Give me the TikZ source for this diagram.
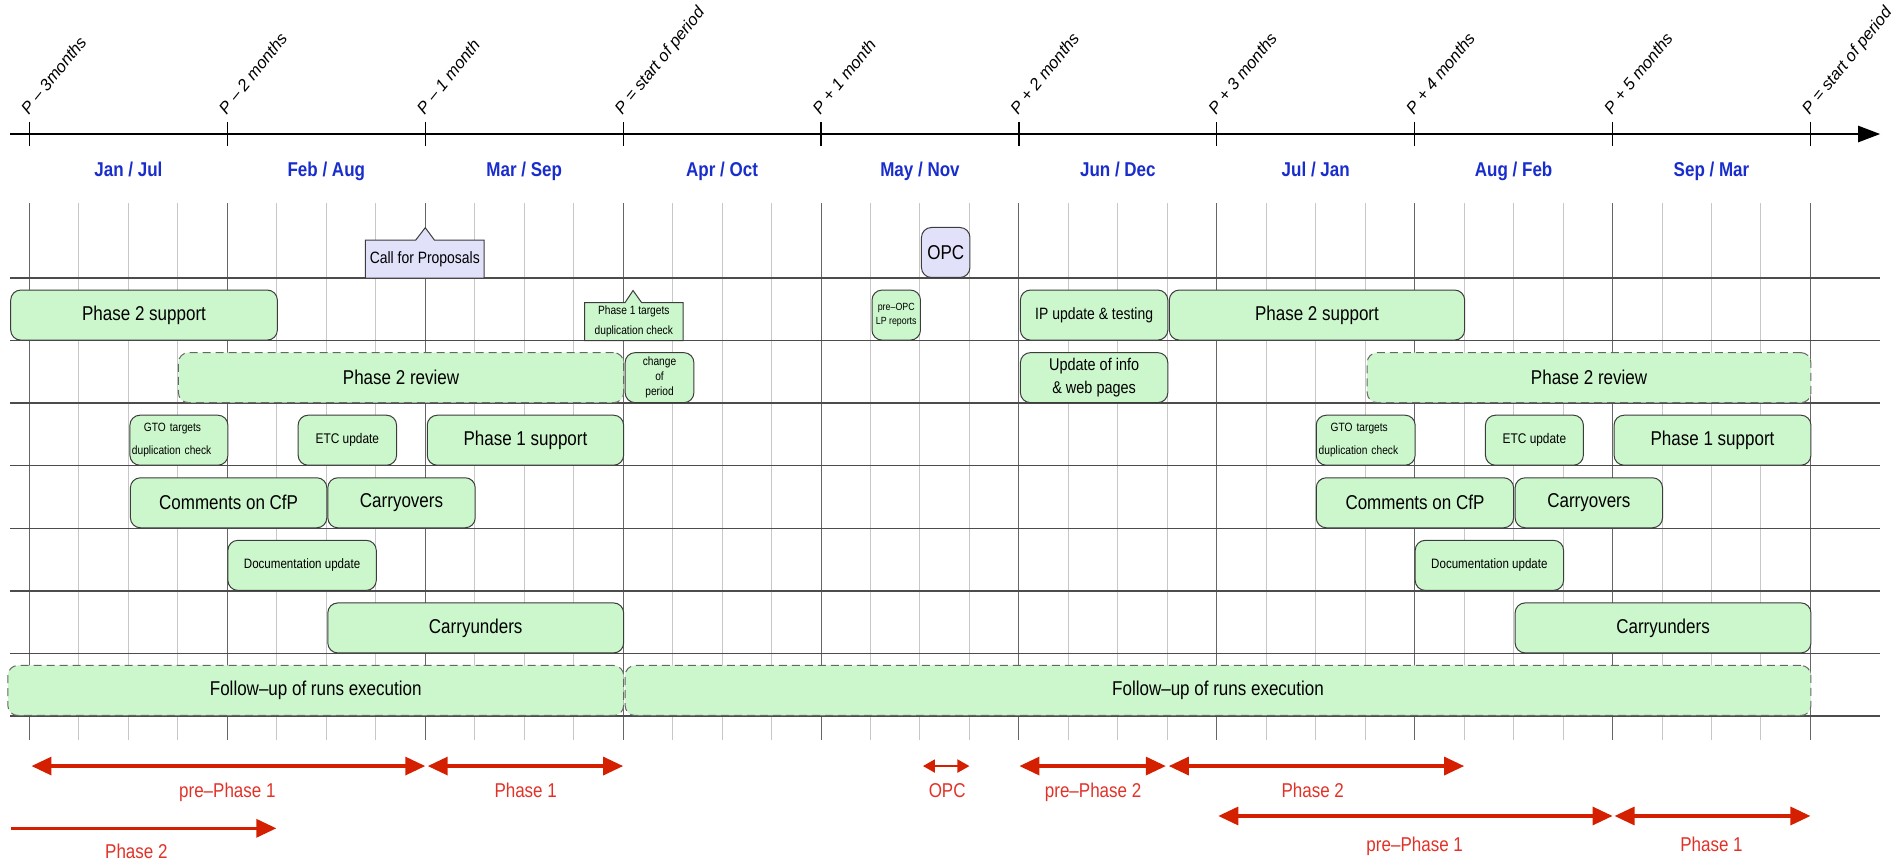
\documentclass[tikz,border=0pt]{standalone}
\usepackage{fontspec}
\setmainfont{Liberation Sans}[FakeStretch=0.85]
\newfontfamily\axisfont{Liberation Sans}
\usetikzlibrary{arrows.meta,shapes.callouts}
\definecolor{taskgreen}{RGB}{204,247,204}
\definecolor{meetblue}{RGB}{225,225,250}
\definecolor{phasered}{RGB}{212,32,0}
\definecolor{labelred}{RGB}{225,50,40}
\definecolor{monthblue}{RGB}{25,45,205}
\definecolor{boxgray}{RGB}{60,60,60}
\newcommand{\WeekW}{24.735pt}

\begin{document}
\begin{tikzpicture}[x=24.735pt, y=-31.285pt]
\useasboundingbox (-0.5963,-4.443) rectangle (37.790,9.350);

\tikzset{GridMinor/.style = {draw=black!22, line width=0.5pt},
 GridMajor/.style = {draw=black!60, line width=0.5pt},
 RowLine/.style = {draw=black!70, line width=0.7pt} }

\foreach \i in {0,...,36} \draw[GridMinor] (\i,-1.2) -- (\i,7.38);
\foreach \i in {0,4,...,36} \draw[GridMajor] (\i,-1.2) -- (\i,7.38);
\foreach \j in {0,...,7} \draw[RowLine] (-0.394,\j) -- (37.41,\j);

\tikzset{AxisStyle/.style = {line width=1.2pt, -{Triangle[length=11pt,width=8pt]}},
 TickStyle/.style = {line width=0.6pt},
 AxisLabel/.style = {font=\axisfont\itshape\fontsize{8.3}{10}\selectfont, rotate=51,
 anchor=base west, inner sep=0pt},
 MonthLabel/.style = {font=\bfseries\fontsize{10}{12}\selectfont, text=monthblue,
 anchor=base, inner sep=0pt} }

\coordinate (AX_1) at (-0.394,-2.301);
\coordinate (AX_2) at (37.41,-2.301);
\draw[AxisStyle] (AX_1) -- (AX_2);

\draw[TickStyle] (0,-2.11) -- (0,-2.493);
\draw[TickStyle] (4,-2.11) -- (4,-2.493);
\draw[TickStyle] (8,-2.11) -- (8,-2.493);
\draw[TickStyle] (12,-2.11) -- (12,-2.493);
\draw[TickStyle] (16,-2.11) -- (16,-2.493);
\draw[TickStyle] (20,-2.11) -- (20,-2.493);
\draw[TickStyle] (24,-2.11) -- (24,-2.493);
\draw[TickStyle] (28,-2.11) -- (28,-2.493);
\draw[TickStyle] (32,-2.11) -- (32,-2.493);
\draw[TickStyle] (36,-2.11) -- (36,-2.493);

\node[AxisLabel] (P0) at (-0.02,-2.60) {P – 3months};
\node[AxisLabel] (P1) at (3.98,-2.60) {P – 2 months};
\node[AxisLabel] (P2) at (7.98,-2.60) {P – 1 month};
\node[AxisLabel] (P3) at (11.98,-2.60) {P = start of period};
\node[AxisLabel] (P4) at (15.98,-2.60) {P + 1 month};
\node[AxisLabel] (P5) at (19.98,-2.60) {P + 2 months};
\node[AxisLabel] (P6) at (23.98,-2.60) {P + 3 months};
\node[AxisLabel] (P7) at (27.98,-2.60) {P + 4 months};
\node[AxisLabel] (P8) at (31.98,-2.60) {P + 5 months};
\node[AxisLabel] (P9) at (35.98,-2.60) {P = start of period};

\node[MonthLabel] (M1) at (2,-1.62) {Jan / Jul};
\node[MonthLabel] (M2) at (6,-1.62) {Feb / Aug};
\node[MonthLabel] (M3) at (10,-1.62) {Mar / Sep};
\node[MonthLabel] (M4) at (14,-1.62) {Apr / Oct};
\node[MonthLabel] (M5) at (18,-1.62) {May / Nov};
\node[MonthLabel] (M6) at (22,-1.62) {Jun / Dec};
\node[MonthLabel] (M7) at (26,-1.62) {Jul / Jan};
\node[MonthLabel] (M8) at (30,-1.62) {Aug / Feb};
\node[MonthLabel] (M9) at (34,-1.62) {Sep / Mar};

\tikzset{TaskStyle/.style = {
 draw = boxgray,
 fill = taskgreen,
 line width = 0.5pt,
 rounded corners = 5pt,
 anchor = south west,
 inner sep = 0pt,
 minimum height = 25pt,
 align = center,
 font = \fontsize{10}{12}\selectfont},
 ReviewStyle/.style = {TaskStyle, draw=black!60, dash pattern=on 4pt off 2.5pt},
 MeetStyle/.style = {TaskStyle, fill=meetblue},
 GtoStyle/.style = {TaskStyle, align=left, inner xsep=1pt, text width=1.9*\WeekW,
 font=\fontsize{6}{11.7}\selectfont},
 CalloutStyle/.style = {rectangle callout, draw=boxgray, line width=0.5pt,
 inner sep=0pt, minimum height=19pt, align=center} }

\node[CalloutStyle, fill=meetblue, minimum width=2.4*\WeekW, callout pointer width=9.3pt,
 callout absolute pointer={(8,-0.804)}, font=\fontsize{8.2}{10}\selectfont]
 (C1) at (7.99,-0.3035) {Call for Proposals};
\node[MeetStyle, minimum width=0.98*\WeekW] (C2) at (18.02,0) {OPC};

\node[TaskStyle, minimum width=5.39*\WeekW] (T1) at (-0.39,1) {Phase 2 support};
\node[CalloutStyle, fill=taskgreen, minimum width=1.99*\WeekW, callout pointer width=8.3pt,
 callout absolute pointer={(12.2,0.2)}, font=\fontsize{6}{10}\selectfont]
 (C3) at (12.215,0.697) {Phase 1 targets\\duplication check};
\node[TaskStyle, minimum width=0.98*\WeekW, font=\fontsize{5.2}{7}\selectfont] (T2) at (17.02,1) {pre–OPC\\LP reports};
\node[TaskStyle, minimum width=2.98*\WeekW, font=\fontsize{8.2}{10}\selectfont] (T3) at (20.02,1) {IP update \& testing};
\node[TaskStyle, minimum width=5.97*\WeekW] (T4) at (23.03,1) {Phase 2 support};

\node[ReviewStyle, minimum width=9*\WeekW] (R1) at (3,2) {Phase 2 review};
\node[TaskStyle, minimum width=1.39*\WeekW, font=\fontsize{6}{7.5}\selectfont] (T5) at (12.03,2) {change\\of\\period};
\node[TaskStyle, minimum width=2.98*\WeekW, font=\fontsize{8.5}{11.5}\selectfont] (T6) at (20.02,2) {Update of info\\\& web pages};
\node[ReviewStyle, minimum width=8.97*\WeekW] (R2) at (27.03,2) {Phase 2 review};

\node[GtoStyle, minimum width=1.98*\WeekW] (T7) at (2.02,3) {\hspace*{6pt}GTO targets\\duplication check};
\node[TaskStyle, minimum width=1.99*\WeekW, font=\fontsize{7}{9}\selectfont] (T8) at (5.42,3) {ETC update};
\node[TaskStyle, minimum width=3.97*\WeekW] (T9) at (8.03,3) {Phase 1 support};
\node[GtoStyle, minimum width=2*\WeekW] (T10) at (26,3) {\hspace*{6pt}GTO targets\\duplication check};
\node[TaskStyle, minimum width=1.98*\WeekW, font=\fontsize{7}{9}\selectfont] (T11) at (29.42,3) {ETC update};
\node[TaskStyle, minimum width=3.98*\WeekW] (T12) at (32.02,3) {Phase 1 support};

\node[TaskStyle, minimum width=3.97*\WeekW] (T13) at (2.03,4) {Comments on CfP};
\node[TaskStyle, minimum width=2.98*\WeekW] (T14) at (6.02,4) {Carryovers};
\node[TaskStyle, minimum width=3.99*\WeekW] (T15) at (26,4) {Comments on CfP};
\node[TaskStyle, minimum width=2.98*\WeekW] (T16) at (30.02,4) {Carryovers};

\node[TaskStyle, minimum width=3*\WeekW, font=\fontsize{6.8}{9}\selectfont] (T17) at (4,5) {Documentation update};
\node[TaskStyle, minimum width=3*\WeekW, font=\fontsize{6.8}{9}\selectfont] (T18) at (28,5) {Documentation update};

\node[TaskStyle, minimum width=5.98*\WeekW] (T19) at (6.02,6) {Carryunders};
\node[TaskStyle, minimum width=5.98*\WeekW] (T20) at (30.02,6) {Carryunders};

\node[ReviewStyle, minimum width=12.448*\WeekW] (R3) at (-0.448,7) {Follow–up of runs execution};
\node[ReviewStyle, minimum width=23.97*\WeekW] (R4) at (12.03,7) {Follow–up of runs execution};

\tikzset{PhaseStyle/.style = {draw=phasered, line width=1.6pt,
 {Triangle[length=10pt,width=9pt]}-{Triangle[length=10pt,width=9pt]}},
 PhaseLabel/.style = {text=labelred, anchor=base, inner sep=0pt,
 font=\fontsize{10}{12}\selectfont} }

\coordinate (A1_1) at (0.04,7.8);
\coordinate (A1_2) at (8,7.8);
\coordinate (A2_1) at (8.05,7.8);
\coordinate (A2_2) at (12,7.8);
\coordinate (A3_1) at (18.06,7.8);
\coordinate (A3_2) at (19,7.8);
\coordinate (A4_1) at (20.01,7.8);
\coordinate (A4_2) at (22.97,7.8);
\coordinate (A5_1) at (23.03,7.8);
\coordinate (A5_2) at (29,7.8);
\coordinate (A6_1) at (-0.376,8.795);
\coordinate (A6_2) at (4.99,8.795);
\coordinate (A7_1) at (24.03,8.598);
\coordinate (A7_2) at (32,8.598);
\coordinate (A8_1) at (32.04,8.598);
\coordinate (A8_2) at (36,8.598);

\draw[PhaseStyle] (A1_1) -- (A1_2);
\draw[PhaseStyle] (A2_1) -- (A2_2);
\draw[PhaseStyle, line width=1pt, {Triangle[length=6pt,width=6.5pt]}-{Triangle[length=6pt,width=6.5pt]}] (A3_1) -- (A3_2);
\draw[PhaseStyle] (A4_1) -- (A4_2);
\draw[PhaseStyle] (A5_1) -- (A5_2);
\draw[PhaseStyle, -{Triangle[length=10pt,width=9pt]}] (A6_1) -- (A6_2);
\draw[PhaseStyle] (A7_1) -- (A7_2);
\draw[PhaseStyle] (A8_1) -- (A8_2);

\node[PhaseLabel] (L1) at (4,8.30) {pre–Phase 1};
\node[PhaseLabel] (L2) at (10.03,8.30) {Phase 1};
\node[PhaseLabel] (L3) at (18.55,8.30) {OPC};
\node[PhaseLabel] (L4) at (21.5,8.30) {pre–Phase 2};
\node[PhaseLabel] (L5) at (25.94,8.30) {Phase 2};
\node[PhaseLabel] (L6) at (2.16,9.285) {Phase 2};
\node[PhaseLabel] (L7) at (28,9.17) {pre–Phase 1};
\node[PhaseLabel] (L8) at (34,9.17) {Phase 1};

\end{tikzpicture}
\end{document}
